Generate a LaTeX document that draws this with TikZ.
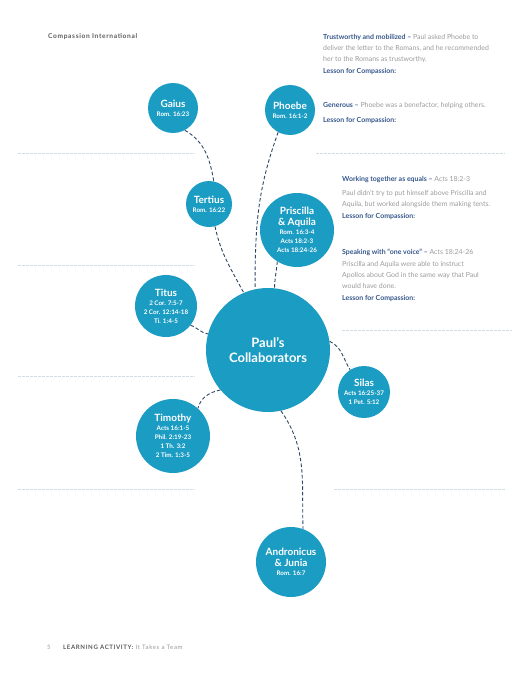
\documentclass[tikz,border=0pt]{standalone}
\usepackage{fontspec}
\setmainfont{Lato}
\usetikzlibrary{positioning}
\definecolor{bubblecol}{HTML}{1B9CC3}
\definecolor{navy}{HTML}{34558A}
\definecolor{linknavy}{HTML}{2B4668}
\definecolor{greytext}{HTML}{9A9A9A}
\definecolor{darkgrey}{HTML}{5A5A5A}
\definecolor{ruleline}{HTML}{CFDEE4}
\newcommand{\nm}[1]{{\fontsize{10}{12}\selectfont #1}}
\newcommand{\hd}[1]{{\bfseries\color{navy}#1}}

\begin{document}
\begin{tikzpicture}[x=1pt, y=1pt,
    bubble/.style={circle, fill=bubblecol, text=white, align=center, inner sep=0pt,
        font=\bfseries\fontsize{6.3}{9}\selectfont},
    link/.style={linknavy, line width=0.9pt, dash pattern=on 3.5pt off 2.2pt},
    rule/.style={ruleline, line width=0.5pt, dash pattern=on 2.5pt off 1.5pt},
    note/.style={anchor=north west, align=left, inner sep=0pt, text=greytext,
        font=\fontsize{6.95}{10.8}\selectfont}]
    \useasboundingbox (0,0) rectangle (532,-688);

    % 1. Header and footer
    \node[anchor=west, inner sep=0pt, text=darkgrey, font=\bfseries\fontsize{6.6}{7}\selectfont\addfontfeatures{LetterSpace=10}] (header) at (48,-37) {Compassion International};
    \node[anchor=west, inner sep=0pt, text=greytext, font=\fontsize{6}{6}\selectfont] (pagenum) at (47,-647) {5};
    \node[anchor=west, inner sep=0pt, text=darkgrey, font=\fontsize{6.1}{6}\selectfont\addfontfeatures{LetterSpace=10}] (footer) at (63,-647) {\bfseries LEARNING ACTIVITY: \mdseries\color{greytext}It Takes a Team};

    % 2. Light dashed separators
    \draw[rule] (18,-153) -- (195,-153);
    \draw[rule] (316,-153) -- (505,-153);
    \draw[rule] (18,-265) -- (195,-265);
    \draw[rule] (342,-330) -- (512,-330);
    \draw[rule] (18,-376) -- (195,-376);
    \draw[rule] (18,-489) -- (195,-489);
    \draw[rule] (334,-489) -- (505,-489);

    % 3. The bubbles
    \node[bubble, minimum size=124pt, font=\bfseries\fontsize{13}{15}\selectfont] (paul) at (268,-350) {Paul’s\\Collaborators};
    \node[bubble, minimum size=50pt] (gaius) at (173,-108) {\nm{Gaius}\\Rom. 16:23};
    \node[bubble, minimum size=50pt] (phoebe) at (290,-110) {\nm{Phoebe}\\Rom. 16:1-2};
    \node[bubble, minimum size=46pt] (tertius) at (209,-204) {\nm{Tertius}\\Rom. 16:22};
    \node[bubble, minimum size=74pt] (priscilla) at (297,-230) {\nm{Priscilla}\\[2.5pt]\nm{\& Aquila}\\Rom. 16:3-4\\Acts 18:2-3\\Acts 18:24-26};
    \node[bubble, minimum size=62pt] (titus) at (166,-306) {\nm{Titus}\\2 Cor. 7:5-7\\2 Cor. 12:14-18\\Ti. 1:4-5};
    \node[bubble, minimum size=52pt] (silas) at (364,-392) {\nm{Silas}\\Acts 16:25-37\\1 Pet. 5:12};
    \node[bubble, minimum size=74pt] (timothy) at (173,-436) {\nm{Timothy}\\Acts 16:1-5\\Phil. 2:19-23\\1 Th. 3:2\\2 Tim. 1:3-5};
    \node[bubble, minimum size=70pt] (andronicus) at (291,-562) {\nm{Andronicus}\\[2.5pt]\nm{\& Junia}\\Rom. 16:7};

    % 4. Dashed links between the bubbles
    \draw[link] (gaius.-62) to[out=-30, in=100] (tertius.78);
    \draw[link] (phoebe.-118) to[out=-110, in=90] (paul.102);
    \draw[link] (tertius.-75) to[out=-78, in=118] (paul.113);
    \draw[link] (priscilla.-122) to[out=-95, in=88] (paul.84);
    \draw[link] (titus.-38) to[out=-20, in=170] (paul.165);
    \draw[link] (paul.8) to[out=-25, in=122] (silas.122);
    \draw[link] (paul.-140) to[out=-168, in=75] (timothy.48);
    \draw[link] (paul.-78) to[out=-55, in=92] (andronicus.70);

    % 5. Notes on the right
    \node[note] (trust) at (323,-34.5) {\hd{Trustworthy and mobilized –} Paul asked Phoebe to\\deliver the letter to the Romans, and he recommended\\her to the Romans as trustworthy.\\[1.2pt]\hd{Lesson for Compassion:}};
    \node[note] (generous) at (323,-102.5) {\hd{Generous –} Phoebe was a benefactor, helping others.\\[4pt]\hd{Lesson for Compassion:}};
    \node[note] (equals) at (342,-176.5) {\hd{Working together as equals –} Acts 18:2-3\\[3pt]Paul didn’t try to put himself above Priscilla and\\Aquila, but worked alongside them making tents.\\[1.2pt]\hd{Lesson for Compassion:}};
    \node[note] (voice) at (342,-248.5) {\hd{Speaking with “one voice” –} Acts 18:24-26\\[2pt]Priscilla and Aquila were able to instruct\\Apollos about God in the same way that Paul\\would have done.\\[1.2pt]\hd{Lesson for Compassion:}};
\end{tikzpicture}
\end{document}
